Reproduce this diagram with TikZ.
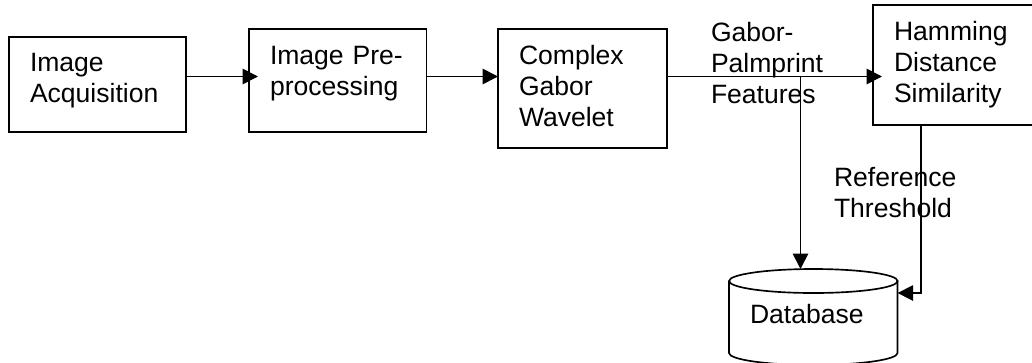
\documentclass[tikz,border=0pt]{standalone}
\usepackage{fontspec}
\setmainfont{Liberation Sans}
\usetikzlibrary{arrows.meta,positioning,calc}

\begin{document}
\begin{tikzpicture}
  [x=.75pt,y=-.75pt,line width=1.25pt,
  every node/.style={font=\fontsize{19.9}{23.25}\selectfont, align=left, inner ysep=0pt, inner xsep=0pt, outer sep=0pt},
  textbox/.style={anchor=north west, inner xsep=15.75pt},
  blockbox/.style={textbox, draw=black},
  floatlbl/.style={anchor=base west},
  flowarrow/.style={-{Triangle[length=11.5pt,width=11.5pt]}},
  tippast/.style={shorten >=-6.75pt}]
  \useasboundingbox (0,0) rectangle (1032,362);

  \node [blockbox, text width=101.25pt, text height=25.5pt, text depth=45.75pt] (ACQ) at (9,37) {Image\\Acquisition};
  \node [blockbox, text width=101.6pt, text height=26.25pt, text depth=51pt] (PRE) at (249,29) {Image Pre-\\processing};
  \node [blockbox, text width=95.25pt, text height=26.25pt, text depth=63pt] (CGW) at (498,29) {Complex\\Gabor\\Wavelet};
  \node [blockbox, text width=88.5pt, text height=26.25pt, text depth=63.75pt] (HAM) at (873,5) {Hamming\\Distance\\Similarity};
  \node [textbox, text width=95pt, text height=40.5pt, text depth=31.5pt] (DB) at (729,269) {Database};

  % drum round the database text
  \draw ($(DB.north)+(0,12)$) ellipse [x radius=63.2pt, y radius=9pt];
  \draw ($(DB.north west)+(0,12)$) -- ++(0,72) arc [start angle=180, end angle=360, x radius=63.2pt, y radius=9pt] -- ++(0,-72);

  \node [floatlbl] (GPF) at (711,103) {Gabor-\\Palmprint\\Features};
  \node [floatlbl] (REF) at (834,217) {Reference\\Threshold};

  \coordinate (FLOW) at (0,76.5);
  \coordinate (TAP) at (800.5,76.5);
  \coordinate (BEND) at (921,293);

  \path [flowarrow]
  (ACQ.east |- FLOW) edge [tippast] (PRE.west |- FLOW)
  (PRE.east |- FLOW) edge (CGW.west |- FLOW)
  (CGW.east |- FLOW) edge [tippast] (HAM.west |- FLOW)
  (TAP) edge (TAP |- DB.north);

  \draw [flowarrow] (HAM.south -| BEND) -- (BEND) -- (DB.east |- BEND);

\end{tikzpicture}
\end{document}
